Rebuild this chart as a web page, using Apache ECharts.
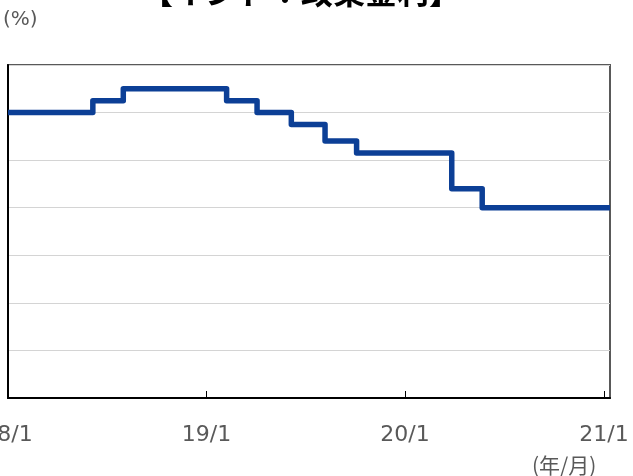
<!DOCTYPE html>
<html>
<head>
<meta charset="utf-8">
<script src="https://cdn.jsdelivr.net/npm/echarts@6/dist/echarts.min.js"></script>
<style>
  html, body { margin: 0; padding: 0; background: #fff; }
  #chart { width: 633px; height: 476px; }
</style>
</head>
<body>
<div id="chart"></div>
<script>
// policy rate change dates and values (%)
const dates = ['2018-01-01', '2018-06-06', '2018-08-01', '2019-02-07', '2019-04-04',
  '2019-06-06', '2019-08-07', '2019-10-04', '2020-03-27', '2020-05-22', '2021-01-12']
const rates = [6.00, 6.25, 6.50, 6.25, 6.00, 5.75, 5.40, 5.15, 4.40, 4.00, 4.00]

const tickDates = ['2018-01-01', '2019-01-01', '2020-01-01', '2021-01-01']
const tickLabels = ['18/1', '19/1', '20/1', '21/1']

const ts = d => new Date(d + 'T00:00:00').getTime()
const tickVals = tickDates.map(ts)

const chart = echarts.init(document.getElementById('chart'))

const option = {
  animation: false,
  title: {
    text: '【インド：政策金利】',
    left: 296,
    textAlign: 'center',
    top: -29,
    textStyle: { fontSize: 32, fontWeight: 'bold', color: '#000', fontFamily: 'Noto Sans CJK JP' }
  },
  graphic: [
    { type: 'text', left: 3, top: 10, style: { text: '(%)', fontSize: 20, fill: '#595959', fontFamily: 'DejaVu Sans' } },
    { type: 'text', left: 532, top: 455, style: { text: '(年/月)', fontSize: 21, fill: '#595959', fontFamily: 'Noto Sans CJK JP' } }
  ],
  grid: {
    left: 8, right: 23, top: 65, bottom: 78,
    containLabel: false, outerBoundsMode: 'none',
    show: true, borderColor: '#595959', borderWidth: 2
  },
  xAxis: {
    type: 'value',
    min: ts('2018-01-01'),
    max: ts('2021-01-12'),
    axisLine: { show: true, lineStyle: { color: '#000', width: 2 } },
    axisTick: { show: true, inside: true, length: 7, customValues: tickVals, lineStyle: { color: '#000', width: 1 } },
    axisLabel: {
      customValues: tickVals,
      margin: 26,
      fontSize: 22,
      color: '#595959',
      fontFamily: 'DejaVu Sans',
      formatter: v => tickLabels[tickVals.indexOf(v)] || ''
    },
    splitLine: { show: false }
  },
  yAxis: {
    type: 'value',
    min: 0, max: 7, interval: 1,
    axisLine: { show: true, lineStyle: { color: '#000', width: 2 } },
    axisTick: { show: false },
    axisLabel: { show: true, fontSize: 18, color: '#595959' },
    splitLine: { show: true, lineStyle: { color: '#d4d4d4', width: 1 } }
  },
  series: [{
    type: 'line',
    step: 'end',
    data: dates.map((d, i) => [ts(d), rates[i]]),
    symbol: 'none',
    lineStyle: { color: '#0c3f96', width: 5.5, join: 'round' }
  }]
}

chart.setOption(option)
</script>
</body>
</html>
